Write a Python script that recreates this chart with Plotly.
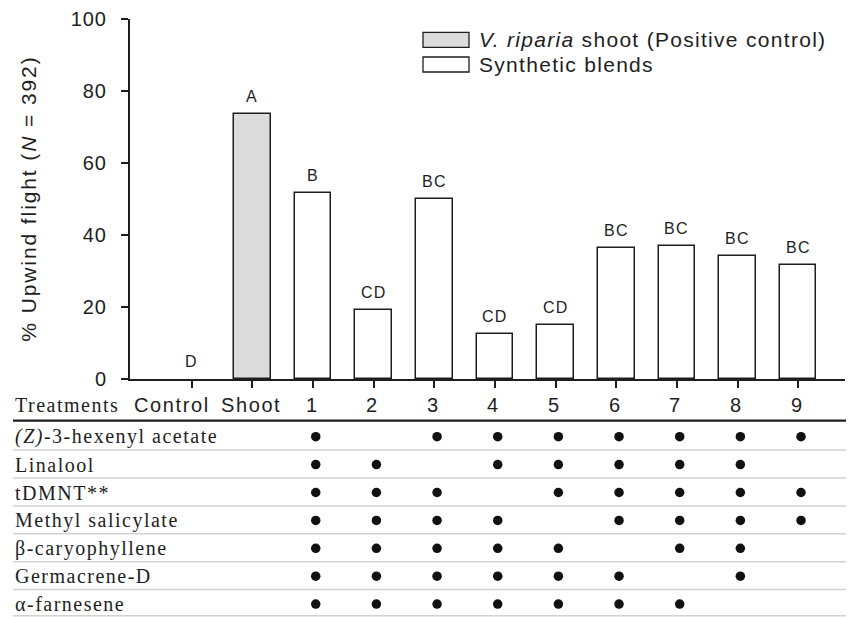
import plotly.graph_objects as go

# ---------------- data ----------------
categories = ["Control", "Shoot", "1", "2", "3", "4", "5", "6", "7", "8", "9"]
upwind_pct = [0, 73.7, 51.7, 19.2, 50.0, 12.6, 14.9, 36.5, 36.9, 34.3, 31.8]
sig_letters = ["D", "A", "B", "CD", "BC", "CD", "CD", "BC", "BC", "BC", "BC"]
bar_group = ["none", "shoot"] + ["blend"] * 9

blend_ids = ["1", "2", "3", "4", "5", "6", "7", "8", "9"]
compounds = ["<i>(Z)</i>-3-hexenyl acetate", "Linalool", "tDMNT**", "Methyl salicylate",
             "β-caryophyllene", "Germacrene-D", "α-farnesene"]
composition = [
    [1, 0, 1, 1, 1, 1, 1, 1, 1],
    [1, 1, 0, 1, 1, 1, 1, 1, 0],
    [1, 1, 1, 0, 1, 1, 1, 1, 1],
    [1, 1, 1, 1, 0, 1, 1, 1, 1],
    [1, 1, 1, 1, 1, 0, 1, 1, 0],
    [1, 1, 1, 1, 1, 1, 0, 1, 0],
    [1, 1, 1, 1, 1, 1, 1, 0, 0],
]
y_ticks = [0, 20, 40, 60, 80, 100]

# ---------------- layout geometry ----------------
W, H = 848, 617
ML, MR, MT, MB = 130, 3, 19, 0
PW, PH = W - ML - MR, H - MT - MB
AXIS_BOTTOM_PX = 379


def fx(px):
    return (px - ML) / PW


def fy(py):
    return 1 - (py - MT) / PH


def ls(text, sp):
    return f'<span style="letter-spacing:{sp}px">{text}</span>'


SANS = "Liberation Sans, Arial, sans-serif"
SERIF = "Liberation Serif, Times New Roman, serif"
DARK = "#1e1e1e"

y1_lo = fy(AXIS_BOTTOM_PX)
xpos = list(range(len(categories)))
x_range = [-1.017, 10.77]

fig = go.Figure()

fill = {"none": "white", "shoot": "#dcdcdc", "blend": "white"}
edge = {"none": 0, "shoot": 1.5, "blend": 1.5}
fig.add_trace(go.Bar(
    x=xpos, y=upwind_pct, width=0.6,
    marker=dict(color=[fill[g] for g in bar_group],
                line=dict(color=DARK, width=[edge[g] for g in bar_group])),
    showlegend=False, hoverinfo="skip", xaxis="x", yaxis="y",
))

# significance letters
for xi, v, t in zip(xpos, upwind_pct, sig_letters):
    fig.add_annotation(x=xi, y=v, xref="x", yref="y", text=ls(t, 1.3), showarrow=False,
                       yanchor="bottom", yshift=7, font=dict(family=SANS, size=16, color=DARK))

# ---------------- table ----------------
row_idx = list(range(len(compounds)))
dx, dy = [], []
for r, row in enumerate(composition):
    for c, present in enumerate(row):
        if present:
            dx.append(categories.index(blend_ids[c]))
            dy.append(r)
fig.add_trace(go.Scatter(x=dx, y=dy, mode="markers", xaxis="x2", yaxis="y2",
                         marker=dict(size=9.5, color="#111111"), showlegend=False, hoverinfo="skip"))

ROW0_PX, ROW_STEP = 436.7, 27.9
y2_range = [(617 - ROW0_PX) / ROW_STEP, (AXIS_BOTTOM_PX - ROW0_PX) / ROW_STEP]
header_r = (405 - ROW0_PX) / ROW_STEP
rule_r = (420.7 - ROW0_PX) / ROW_STEP

for r, name in zip(row_idx, compounds):
    fig.add_annotation(x=fx(13), y=r, xref="paper", yref="y2", text=ls(name, 1.5), showarrow=False,
                       xanchor="left", yanchor="middle", font=dict(family=SERIF, size=20, color=DARK))
    sep = min(r + 0.48, 6.42)
    fig.add_shape(type="line", xref="paper", yref="y2", x0=fx(13), x1=fx(846), y0=sep, y1=sep,
                  line=dict(color="#d2d2d2", width=1.5), layer="below")

fig.add_shape(type="line", xref="paper", yref="y2", x0=fx(13), x1=fx(846), y0=rule_r, y1=rule_r,
              line=dict(color=DARK, width=2.2))

fig.add_annotation(x=fx(13), y=header_r, xref="paper", yref="y2", text=ls("Treatments", 1.5),
                   showarrow=False, xanchor="left", yanchor="middle",
                   font=dict(family=SERIF, size=20, color=DARK))
header_shift = {"Control": -20}
for xi, cat in zip(xpos, categories):
    fig.add_annotation(x=xi, y=header_r, xref="x", yref="y2", text=ls(cat, 1.6), showarrow=False,
                       xanchor="center", yanchor="middle", xshift=header_shift.get(cat, -1),
                       font=dict(family=SANS, size=20, color=DARK))

# ---------------- legend (drawn) ----------------
legend_items = [("<i>V. riparia</i> shoot (Positive control)", "#dcdcdc", 32.3, 47.3),
                ("Synthetic blends", "white", 57.0, 72.0)]
for label, col, y0, y1 in legend_items:
    fig.add_shape(type="rect", xref="paper", yref="paper", x0=fx(423), x1=fx(469), y0=fy(y1), y1=fy(y0),
                  fillcolor=col, line=dict(color=DARK, width=1.3))
    fig.add_annotation(x=fx(477), y=fy((y0 + y1) / 2), xref="paper", yref="paper", text=ls(label, 1.3),
                       showarrow=False, xanchor="left", yanchor="middle",
                       font=dict(family=SANS, size=21, color=DARK))

# y-axis title
fig.add_annotation(x=fx(29), y=fy((49.3 + 348) / 2), xref="paper", yref="paper",
                   text=ls("% Upwind flight (<i>N</i> = 392)", 1.9), textangle=-90, showarrow=False,
                   xanchor="center", yanchor="middle", font=dict(family=SANS, size=21, color=DARK))

fig.update_layout(
    width=W, height=H, margin=dict(l=ML, r=MR, t=MT, b=MB, autoexpand=False),
    paper_bgcolor="white", plot_bgcolor="white", showlegend=False, bargap=0,
    xaxis=dict(domain=[0, 1], anchor="y", range=x_range, tickmode="array", tickvals=xpos,
               showticklabels=False, ticks="outside", ticklen=7, tickwidth=1.5, tickcolor=DARK,
               showline=True, linecolor=DARK, linewidth=2, showgrid=False, zeroline=False, fixedrange=True),
    yaxis=dict(domain=[y1_lo, 1], anchor="x", range=[0, 100], tickmode="array", tickvals=y_ticks,
               ticktext=[ls(str(t), 1) for t in y_ticks], ticks="outside", ticklen=7, tickwidth=1.5,
               tickcolor=DARK, tickfont=dict(family=SANS, size=20, color=DARK), ticklabelstandoff=10,
               showline=True, linecolor=DARK, linewidth=2, showgrid=False, zeroline=False, fixedrange=True),
    xaxis2=dict(domain=[0, 1], anchor="y2", range=[x_range[0] - 0.045, x_range[1] - 0.045],
                visible=False, fixedrange=True),
    yaxis2=dict(domain=[0, y1_lo], anchor="x2", range=y2_range, visible=False, fixedrange=True),
)

fig.write_html("out.html")
